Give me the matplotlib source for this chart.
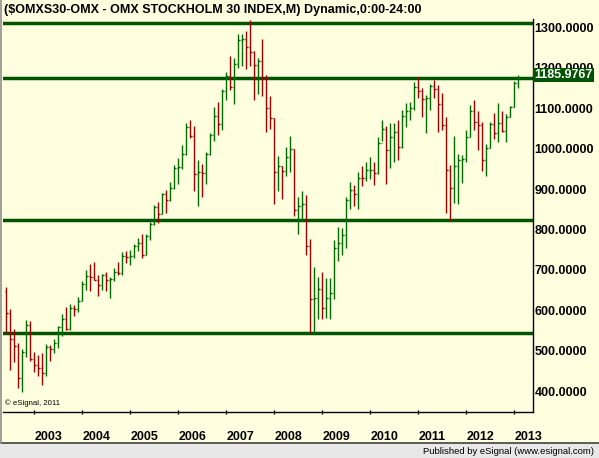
import matplotlib
matplotlib.use("Agg")
import matplotlib.pyplot as plt
import numpy as np
import pandas as pd
from matplotlib.lines import Line2D
from matplotlib.patches import Rectangle

# ---------------- data (monthly OHLC, Jun 2002 .. Feb 2013) ----------------
months = pd.period_range("2002-06", "2013-02", freq="M")
first_open = 660
high = [670, 615, 565, 532, 515, 588, 585, 508, 501, 506, 529, 527, 540, 573, 602, 620,
        627, 626, 644, 684, 711, 726, 731, 700, 702, 706, 693, 716, 731, 756, 759, 760,
        776, 791, 801, 801, 831, 872, 880, 902, 910, 929, 972, 989, 1021, 1075, 1083, 1069,
        983, 975, 1003, 1051, 1115, 1128, 1160, 1202, 1242, 1235, 1296, 1296, 1302, 1331, 1253, 1236,
        1283, 1195, 1142, 1087, 994, 968, 1016, 1042, 1010, 892, 907, 896, 788, 719, 694, 707,
        692, 692, 786, 818, 815, 891, 929, 922, 953, 970, 980, 991, 979, 1041, 1083, 1069,
        1076, 1076, 1084, 1108, 1126, 1127, 1177, 1188, 1161, 1145, 1172, 1183, 1169, 1149, 1091, 971,
        1043, 998, 997, 1058, 1120, 1133, 1104, 1078, 1023, 1078, 1101, 1126, 1105, 1098, 1118, 1179,
        1194]
low = [555, 465, 485, 420, 410, 495, 487, 459, 448, 428, 450, 486, 507, 519, 548, 564,
       564, 598, 608, 636, 661, 660, 686, 648, 661, 660, 643, 685, 700, 700, 730, 725,
       741, 758, 741, 749, 787, 822, 829, 849, 853, 883, 912, 925, 962, 997, 1037, 908,
       871, 893, 925, 995, 1032, 1046, 1059, 1133, 1158, 1123, 1212, 1217, 1210, 1216, 1133, 1148,
       1142, 1052, 1060, 876, 908, 888, 943, 955, 844, 801, 835, 749, 556, 556, 591, 591,
       592, 591, 640, 735, 749, 767, 862, 870, 862, 920, 933, 936, 923, 948, 1030, 925,
       965, 980, 983, 1014, 1065, 1083, 1108, 1136, 1089, 1050, 1108, 1138, 1052, 1057, 853, 834,
       877, 876, 927, 978, 1040, 1059, 1008, 957, 943, 1013, 1036, 1029, 1052, 1029, 1089, 1116,
       1162]
close = [606, 540, 524, 444, 508, 575, 491, 476, 468, 456, 520, 515, 530, 570, 590, 566,
         618, 616, 636, 678, 697, 694, 686, 674, 699, 686, 689, 706, 704, 745, 743, 746,
         772, 778, 749, 795, 825, 867, 851, 900, 886, 914, 964, 966, 998, 1065, 1043, 950,
         954, 951, 998, 1045, 1092, 1073, 1154, 1192, 1164, 1221, 1281, 1283, 1263, 1250, 1220, 1228,
         1186, 1112, 1087, 953, 968, 957, 990, 1010, 859, 869, 874, 770, 639, 641, 664, 617,
         641, 654, 765, 778, 797, 885, 910, 899, 940, 938, 958, 960, 952, 1026, 1060, 1009,
         1040, 1052, 1015, 1093, 1105, 1112, 1165, 1155, 1134, 1137, 1168, 1160, 1122, 1071, 960, 914,
         969, 984, 987, 1040, 1106, 1079, 1070, 983, 1013, 1073, 1050, 1075, 1056, 1091, 1116, 1174,
         1186]
levels = [1324, 1186, 835, 555]
last_value = 1185.9767
ytick_values = [400, 500, 600, 700, 800, 900, 1000, 1100, 1200, 1300]
year_labels = ["2003", "2004", "2005", "2006", "2007", "2008", "2009", "2010", "2011", "2012", "2013"]
title = "($OMXS30-OMX - OMX STOCKHOLM 30 INDEX,M) Dynamic,0:00-24:00"

# ---------------- styling ----------------
plt.rcParams['font.family'] = ['Liberation Sans', 'DejaVu Sans']
BG = '#FFFFE0'
GREEN = '#006C00'
RED = '#A00000'
LINE_GREEN = '#005400'

W, H = 599, 458
fig = plt.figure(figsize=(W / 100, H / 100), dpi=100, facecolor=BG)

ax_l, ax_r, ax_t, ax_b = 3, 533.3, 18.5, 411.5
ax = fig.add_axes([ax_l / W, (H - ax_b) / H, (ax_r - ax_l) / W, (ax_b - ax_t) / H])
ax.set_facecolor(BG)

x = np.array([(p.year - 2003) * 12 + (p.month - 1) for p in months], dtype=float)
hi = np.array(high, float)
lo = np.array(low, float)
cl = np.array(close, float)
op = np.concatenate([[first_open], cl[:-1]])
colors = [GREEN if c >= o else RED for o, c in zip(op, cl)]

# horizontal support / resistance lines
for lv in levels:
    ax.axhline(lv, color=LINE_GREEN, lw=2.5, zorder=1)

ax.vlines(x, lo, hi, colors=colors, lw=1.0, zorder=3)
ax.hlines(op, x - 0.45, x, colors=colors, lw=1.0, zorder=3)
ax.hlines(cl, x, x + 0.45, colors=colors, lw=1.0, zorder=3)

ax.set_xlim(-7.825, 124.75)
ax.set_ylim(361.3, 1334)

for s in ['left', 'top']:
    ax.spines[s].set_visible(False)
for s in ['right', 'bottom']:
    ax.spines[s].set_color('black')
    ax.spines[s].set_linewidth(1.0)

# x ticks at each January
jan_pos = [(int(y) - 2003) * 12 for y in year_labels]
ax.set_xticks(jan_pos)
ax.set_xticklabels(year_labels, fontsize=9, fontweight='bold')
for lbl in ax.get_xticklabels():
    lbl.set_horizontalalignment('left')
ax.tick_params(axis='x', direction='inout', length=3, width=1, pad=12.5, color='black')

# right-side value labels (placed slightly above the value, like the original)
ax.set_yticks([])
for v in ytick_values:
    ax.annotate(f"{v:.4f}", xy=(1, v), xycoords=('axes fraction', 'data'),
                xytext=(1.0, 2.3), textcoords='offset points',
                ha='left', va='center', fontsize=9, fontweight='bold', color='black',
                annotation_clip=False, zorder=5)
ax.annotate(f"{last_value:.4f}", xy=(1, last_value), xycoords=('axes fraction', 'data'),
            xytext=(1.0, 2.3), textcoords='offset points',
            ha='left', va='center', fontsize=9, fontweight='bold', color='white',
            bbox=dict(boxstyle='square,pad=0.1', facecolor=LINE_GREEN, edgecolor='none'),
            annotation_clip=False, zorder=6)

# title & copyright
fig.text(4 / W, (H - 10.5) / H, title, fontsize=9, fontweight='bold', ha='left', va='center')
fig.text(5 / W, (H - 403) / H, "\u00a9 eSignal, 2011", fontsize=5.6, ha='left', va='center')

# footer band
fig.patches.append(Rectangle((0, 0), 1, (H - 443.5) / H, transform=fig.transFigure,
                             facecolor='#E8E8E8', edgecolor='none', zorder=0))
fig.lines.append(Line2D([0, 1], [(H - 443) / H] * 2, transform=fig.transFigure,
                        color='#404040', lw=1.2))
fig.lines.append(Line2D([1 / W] * 2, [(H - 443) / H, 1], transform=fig.transFigure,
                        color='#909090', lw=1.2))
fig.text(594 / W, (H - 451) / H, "Published by eSignal (www.esignal.com)", fontsize=6.8,
         ha='right', va='center', color='black')

fig.savefig("out.png", dpi=100, facecolor=BG)
